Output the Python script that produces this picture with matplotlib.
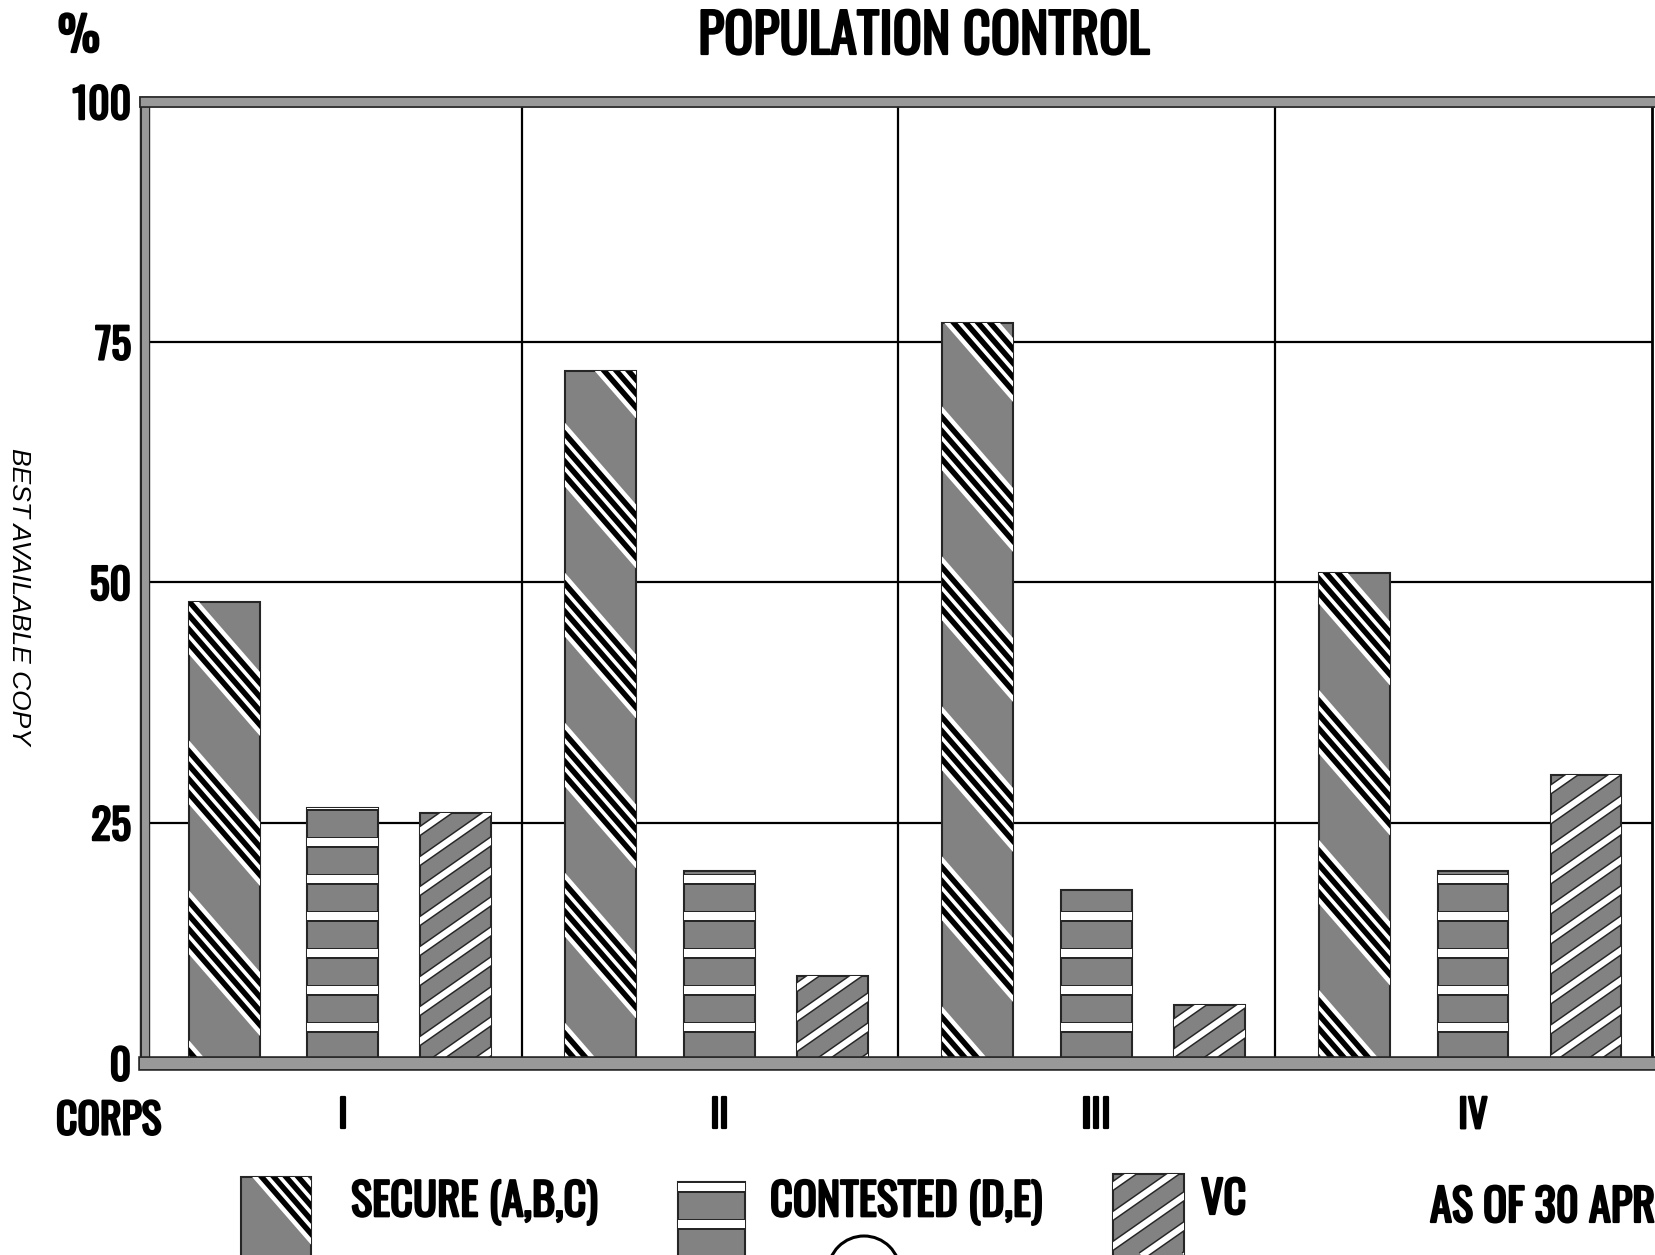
import numpy as np
import matplotlib
matplotlib.use('Agg')
import matplotlib.pyplot as plt
import matplotlib.patheffects as pe
from matplotlib.collections import LineCollection
from matplotlib.patches import Rectangle, Circle
from matplotlib.transforms import IdentityTransform

corps = ['I', 'II', 'III', 'IV']
secure = [48, 72, 77, 51]
contested = [26.5, 20, 18, 20]
vc = [26, 9, 6, 30]
yticks = [0, 25, 50, 75, 100]
legend_labels = ['SECURE (A,B,C)', 'CONTESTED (D,E)', 'VC']

plt.rcParams['font.family'] = ['Oswald', 'DejaVu Sans']

GRAY = '#828282'
DARK = '#262626'
PX = 0.72  # points per pixel at dpi 100
heavy = [pe.withStroke(linewidth=1.6, foreground='black')]

fig = plt.figure(figsize=(16.55, 12.55), dpi=100)
ax = fig.add_axes([0.0876, 0.153, 0.9105, 0.766])
ax.set_xlim(0, 4)
ax.set_ylim(0, 100)

patch_holder = []


def lines_family(slope, intercepts):
    # pixel-space lines y = c + slope * x covering the whole figure
    x0, x1 = -200, 1900
    return [[(x0, c + slope * x0), (x1, c + slope * x1)] for c in intercepts]


def add_lines(target, segs, color, lw_px, z):
    lc = LineCollection(segs, colors=color, linewidths=lw_px * PX,
                        transform=IdentityTransform(), zorder=z, capstyle='butt')
    target.add_collection(lc)
    lc.set_clip_path(patch_holder[-1])


def style_secure(target, patch):
    patch_holder.append(patch)
    s = -1.15
    centers = np.arange(-200, 3400, 150)
    add_lines(target, lines_family(s, centers), 'white', 42, 3)
    blacks = np.concatenate([centers + d for d in (-21, -7, 7, 21)])
    add_lines(target, lines_family(s, blacks), 'black', 5.5, 4)


def style_vc(target, patch):
    patch_holder.append(patch)
    s = 0.7
    cs = np.arange(-1400, 1400, 30)
    add_lines(target, lines_family(s, cs), DARK, 9, 3)
    add_lines(target, lines_family(s, cs), 'white', 6, 4)


def style_contested(target, patch, base):
    patch_holder.append(patch)
    cs = base + 36 + 37 * np.arange(0, 40)
    add_lines(target, lines_family(0, cs), DARK, 11, 3)
    add_lines(target, lines_family(0, cs), 'white', 8, 4)


# grid
for y in yticks[1:-1]:
    ax.axhline(y, color='black', lw=1.6, zorder=1)
for x in range(1, 4):
    ax.axvline(x, color='black', lw=1.6, zorder=1)

idx = np.arange(len(corps))
w = 0.188
base_px = ax.transData.transform((0, 0))[1]

b1 = ax.bar(idx + 0.21, secure, w, color=GRAY, edgecolor=DARK, lw=1.5, zorder=2)
b2 = ax.bar(idx + 0.525, contested, w, color=GRAY, edgecolor=DARK, lw=1.5, zorder=2)
b3 = ax.bar(idx + 0.825, vc, w, color=GRAY, edgecolor=DARK, lw=1.5, zorder=2)
for p in b1:
    style_secure(ax, p)
for p in b2:
    style_contested(ax, p, base_px)
for p in b3:
    style_vc(ax, p)

# frame
for side, lw in (('top', 6), ('bottom', 8), ('left', 5), ('right', 2)):
    sp = ax.spines[side]
    sp.set_linewidth(lw)
    if side == 'right':
        sp.set_color('black')
    else:
        sp.set_color('#999999')
        sp.set_path_effects([pe.Stroke(linewidth=lw + 2.5, foreground=DARK), pe.Normal()])
    sp.set_zorder(6)

ax.set_yticks(yticks)
ax.set_yticklabels([str(v) for v in yticks], fontsize=30, path_effects=heavy)
ax.set_xticks(idx + 0.525)
ax.set_xticklabels(corps, fontsize=28, path_effects=heavy)
ax.tick_params(axis='both', length=0)
ax.tick_params(axis='y', pad=10)
ax.tick_params(axis='x', pad=24)

fig.text(924 / 1655, 1 - 37 / 1255, 'POPULATION CONTROL', ha='center', va='center',
         fontsize=39, path_effects=heavy)
fig.text(79 / 1655, 1 - 37 / 1255, '%', ha='center', va='center', fontsize=34, path_effects=heavy)
fig.text(56 / 1655, 1 - 1121 / 1255, 'CORPS', ha='left', va='center', fontsize=30, path_effects=heavy)
fig.text(19 / 1655, 1 - 596 / 1255, 'BEST AVAILABLE COPY', ha='center', va='center',
         rotation=-90, fontsize=19, fontstyle='italic',
         family=['Liberation Sans', 'DejaVu Sans'])

# legend
lax = fig.add_axes([0, 0, 1, 1])
lax.set_xlim(0, 1655)
lax.set_ylim(1255, 0)
lax.axis('off')

r = Rectangle((241, 1177), 70, 90, facecolor=GRAY, edgecolor=DARK, lw=1.5, zorder=2)
lax.add_patch(r)
style_secure(lax, r)
r = Rectangle((678, 1182), 67, 80, facecolor=GRAY, edgecolor=DARK, lw=1.5, zorder=2)
lax.add_patch(r)
style_contested(lax, r, 1255 - 1260)
r = Rectangle((1113, 1174), 71, 90, facecolor=GRAY, edgecolor=DARK, lw=1.5, zorder=2)
lax.add_patch(r)
style_vc(lax, r)

lax.text(351, 1203, legend_labels[0], ha='left', va='center', fontsize=32, path_effects=heavy)
lax.text(770, 1203, legend_labels[1], ha='left', va='center', fontsize=32, path_effects=heavy)
lax.text(1201, 1200, legend_labels[2], ha='left', va='center', fontsize=32, path_effects=heavy)
lax.text(1430, 1208, 'AS OF 30 APRIL', ha='left', va='center', fontsize=32, path_effects=heavy)

# circled page mark at the bottom edge
lax.add_patch(Circle((864, 1272), 36, fill=False, edgecolor='black', lw=2.2))

fig.savefig('out.png', dpi=100)
